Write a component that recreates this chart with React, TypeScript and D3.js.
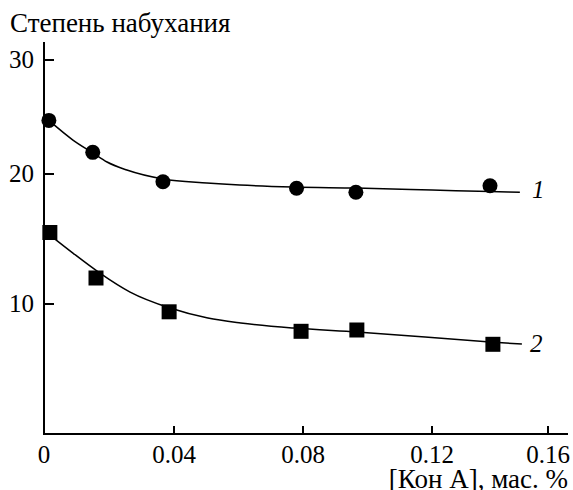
import React, { useRef, useEffect } from 'react'
import * as d3 from 'd3'

// measured points
const conc1 = [0.0015, 0.015, 0.0366, 0.078, 0.0964, 0.14]
const swell1 = [24.7, 21.9, 19.4, 18.9, 18.6, 19.1]
const conc2 = [0.0018, 0.016, 0.0385, 0.0794, 0.0967, 0.141]
const swell2 = [15.5, 12.0, 9.4, 7.9, 8.0, 6.9]

// fitted curves
const fitX1 = [0.0015, 0.0089, 0.0151, 0.0194, 0.0255, 0.0366, 0.0502, 0.0604, 0.0769, 0.0964, 0.12, 0.14, 0.1503]
const fitY1 = [24.7, 22.98, 21.84, 21.05, 20.35, 19.62, 19.31, 19.15, 19.0, 18.92, 18.77, 18.65, 18.6]
const fitX2 = [0.0018, 0.0089, 0.0172, 0.0265, 0.0388, 0.0505, 0.0607, 0.077, 0.0967, 0.14, 0.151]
const fitY2 = [15.31, 13.92, 12.38, 10.92, 9.69, 8.92, 8.54, 8.15, 7.85, 7.08, 6.92]

const xTicks = [0, 0.04, 0.08, 0.12, 0.16]
const xTickLabels = ['0', '0.04', '0.08', '0.12', '0.16']
const yTicks = [10, 20, 30]

const FONT = "'Liberation Serif', 'Times New Roman', 'DejaVu Serif', serif"

export default function App() {
  const svgRef = useRef<SVGSVGElement | null>(null)

  useEffect(() => {
    if (!svgRef.current) return
    const svg = d3.select(svgRef.current)
    svg.selectAll('*').remove()

    // the printed axes are not evenly spaced, so the scales are piecewise
    const x = d3.scaleLinear().domain(xTicks).range([44, 174, 303, 432, 548])
    const y = d3.scaleLinear().domain([0, 10, 20, 30]).range([434, 304, 174, 60])

    const txt = (tx: number, ty: number, s: string, size: number, anchor = 'start', italic = false) =>
      svg.append('text')
        .attr('x', tx).attr('y', ty)
        .attr('text-anchor', anchor)
        .style('font-family', FONT)
        .style('font-size', `${size}px`)
        .style('font-style', italic ? 'italic' : 'normal')
        .attr('fill', '#000')
        .text(s)

    // axes
    svg.append('line')
      .attr('x1', 44).attr('x2', 44)
      .attr('y1', 42).attr('y2', 435)
      .attr('stroke', '#000').attr('stroke-width', 2)
    svg.append('line')
      .attr('x1', 43).attr('x2', 568)
      .attr('y1', 434).attr('y2', 434)
      .attr('stroke', '#000').attr('stroke-width', 2)

    yTicks.forEach((t) => {
      svg.append('line')
        .attr('x1', 44).attr('x2', 54)
        .attr('y1', y(t)).attr('y2', y(t))
        .attr('stroke', '#000').attr('stroke-width', 2)
      txt(34, y(t) + 8, String(t), 25, 'end')
    })

    xTicks.forEach((t, i) => {
      if (i > 0) {
        svg.append('line')
          .attr('x1', x(t)).attr('x2', x(t))
          .attr('y1', 434).attr('y2', 426)
          .attr('stroke', '#000').attr('stroke-width', 2)
      }
      txt(x(t), 463, xTickLabels[i], 25, 'middle')
    })

    txt(568, 488, '[Кон A], мас. %', 27, 'end')
    txt(10, 32, 'Степень набухания', 27)

    // curves
    const line = d3.line<[number, number]>()
      .x((d) => x(d[0]))
      .y((d) => y(d[1]))
      .curve(d3.curveMonotoneX)

    const fits = [
      fitX1.map((v, i) => [v, fitY1[i]] as [number, number]),
      fitX2.map((v, i) => [v, fitY2[i]] as [number, number]),
    ]
    fits.forEach((f) => {
      svg.append('path')
        .attr('d', line(f))
        .attr('fill', 'none')
        .attr('stroke', '#000')
        .attr('stroke-width', 1.5)
    })

    svg.selectAll('circle.pt')
      .data(conc1.map((c, i) => ({ c, s: swell1[i] })))
      .join('circle')
      .attr('class', 'pt')
      .attr('cx', (d) => x(d.c))
      .attr('cy', (d) => y(d.s))
      .attr('r', 7.5)
      .attr('fill', '#000')

    const sq = 15
    svg.selectAll('rect.pt')
      .data(conc2.map((c, i) => ({ c, s: swell2[i] })))
      .join('rect')
      .attr('class', 'pt')
      .attr('x', (d) => x(d.c) - sq / 2)
      .attr('y', (d) => y(d.s) - sq / 2)
      .attr('width', sq)
      .attr('height', sq)
      .attr('fill', '#000')

    // curve labels
    txt(532, 198, '1', 25, 'start', true)
    txt(530, 352, '2', 25, 'start', true)
  }, [])

  return (
    <svg
      ref={svgRef}
      width={573}
      height={490}
      style={{ position: 'absolute', left: 0, top: 0, background: '#fff' }}
    />
  )
}
